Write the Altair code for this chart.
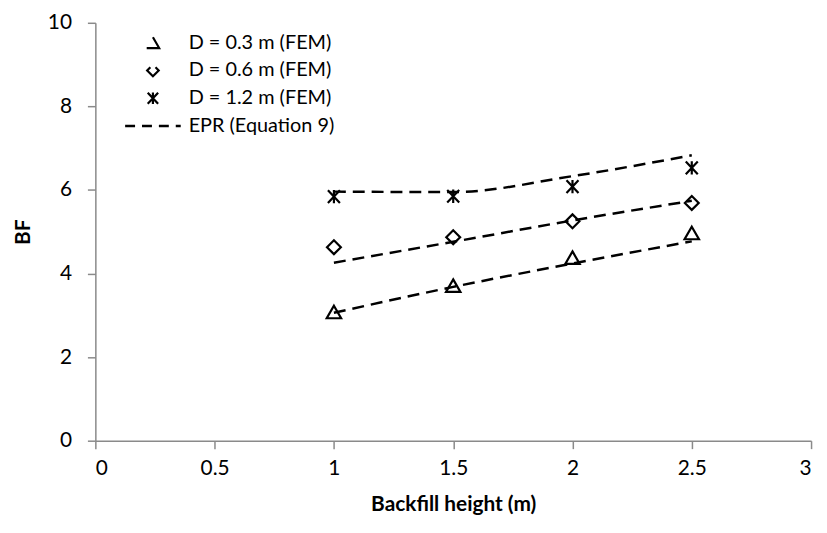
import altair as alt
import pandas as pd

# ---- data ----
x_vals = [1.0, 1.5, 2.0, 2.5]
fem_d03 = [3.08, 3.71, 4.38, 4.97]
fem_d06 = [4.63, 4.87, 5.25, 5.69]
fem_d12 = [5.84, 5.85, 6.08, 6.53]
epr_d03 = [3.06, 3.68, 4.24, 4.77]
epr_d06 = [4.26, 4.76, 5.27, 5.74]
epr_d12 = [5.96, 5.95, 6.33, 6.83]
series_labels = ["D = 0.3 m (FEM)", "D = 0.6 m (FEM)", "D = 1.2 m (FEM)"]
epr_label = "EPR (Equation 9)"
x_ticks = [0, 0.5, 1, 1.5, 2, 2.5, 3]
y_ticks = [0, 2, 4, 6, 8, 10]

FONT = "Lato"
FS = 21
AX_GRAY = "#8a8a8a"
TRI = "M0,-0.87L1,0.87L-1,0.87Z"
STAR = "M-0.9,-0.95L0.9,0.95M-0.9,0.95L0.9,-0.95M0,-1L0,1"
shapes = [TRI, "diamond", STAR]
sizes = [210, 180, 180]
# legend glyphs as drawn (partially clipped) in the reference
leg_shapes = [
    "M0,-0.87L1,0.87L-1,0.87",
    "M-0.45,-0.55L-1,0L0,1L1,0L0.45,-0.55",
    STAR,
]

fem_rows = []
for lab, vals in zip(series_labels, [fem_d03, fem_d06, fem_d12]):
    for x, v in zip(x_vals, vals):
        fem_rows.append({"x": x, "bf": v, "series": lab})
fem_df = pd.DataFrame(fem_rows)

epr_rows = []
for lab, vals in zip(series_labels, [epr_d03, epr_d06, epr_d12]):
    for x, v in zip(x_vals, vals):
        epr_rows.append({"x": x, "bf": v, "series": lab})
epr_df = pd.DataFrame(epr_rows)

x_enc = alt.X(
    "x:Q",
    scale=alt.Scale(domain=[0, 3], nice=False, zero=False),
    axis=alt.Axis(
        values=x_ticks, format="~g", title="Backfill height (m)", grid=False,
        tickSize=8, tickColor=AX_GRAY, domainColor=AX_GRAY, domainWidth=1.5, tickWidth=1.5,
        labelFont=FONT, labelFontSize=FS, labelColor="black", labelPadding=9,
        titleFont=FONT, titleFontSize=FS, titleFontWeight="bold", titleColor="black",
        titleY=70, titleBaseline="alphabetic",
    ),
)
y_enc = alt.Y(
    "bf:Q",
    scale=alt.Scale(domain=[0, 10], nice=False),
    axis=alt.Axis(
        values=y_ticks, title="BF", grid=False,
        tickSize=8, tickColor=AX_GRAY, domainColor=AX_GRAY, domainWidth=1.5, tickWidth=1.5,
        labelFont=FONT, labelFontSize=FS, labelColor="black", labelPadding=16,
        titleFont=FONT, titleFontSize=FS, titleFontWeight="bold", titleColor="black",
        titleX=-66, titleBaseline="alphabetic",
    ),
)

lines = alt.Chart(epr_df).mark_line(
    color="black", strokeWidth=2.5, strokeDash=[12, 7], interpolate="monotone"
).encode(x=x_enc, y=y_enc, detail="series:N")

points = alt.Chart(fem_df).mark_point(
    filled=False, color="black", strokeWidth=2.2, opacity=1
).encode(
    x="x:Q",
    y="bf:Q",
    shape=alt.Shape("series:N", scale=alt.Scale(domain=series_labels, range=shapes), legend=None),
    size=alt.Size("series:N", scale=alt.Scale(domain=series_labels, range=sizes), legend=None),
)

# ---- manual legend (pixel placement inside the plot area) ----
leg_sym_x = 58
leg_txt_x = 94
leg_y0 = 20
leg_dy = 28
legend_layers = []
for i, lab in enumerate(series_labels):
    yy = leg_y0 + i * leg_dy
    legend_layers.append(
        alt.Chart(pd.DataFrame({"k": [lab]})).mark_point(
            filled=False, color="black", strokeWidth=2.2, shape=leg_shapes[i], size=sizes[i] * 0.75, opacity=1
        ).encode(x=alt.value(leg_sym_x), y=alt.value(yy))
    )
    legend_layers.append(
        alt.Chart(pd.DataFrame({"k": [lab]})).mark_text(
            align="left", baseline="middle", font=FONT, fontSize=20, color="black"
        ).encode(x=alt.value(leg_txt_x), y=alt.value(yy), text="k:N")
    )
yy = leg_y0 + 3 * leg_dy
legend_layers.append(
    alt.Chart(pd.DataFrame({"k": [epr_label]})).mark_rule(
        color="black", strokeWidth=2.5, strokeDash=[10, 7]
    ).encode(x=alt.value(30), x2=alt.value(86), y=alt.value(yy))
)
legend_layers.append(
    alt.Chart(pd.DataFrame({"k": [epr_label]})).mark_text(
        align="left", baseline="middle", font=FONT, fontSize=20, color="black"
    ).encode(x=alt.value(leg_txt_x), y=alt.value(yy), text="k:N")
)

chart = alt.layer(lines, points, *legend_layers).properties(
    width=721,
    height=421,
    padding={"left": 88, "top": 13, "right": 8, "bottom": 80},
    autosize="none",
    background="white",
).configure_view(stroke=None)

chart.save("out.html", embed_options={"renderer": "svg", "actions": False})
